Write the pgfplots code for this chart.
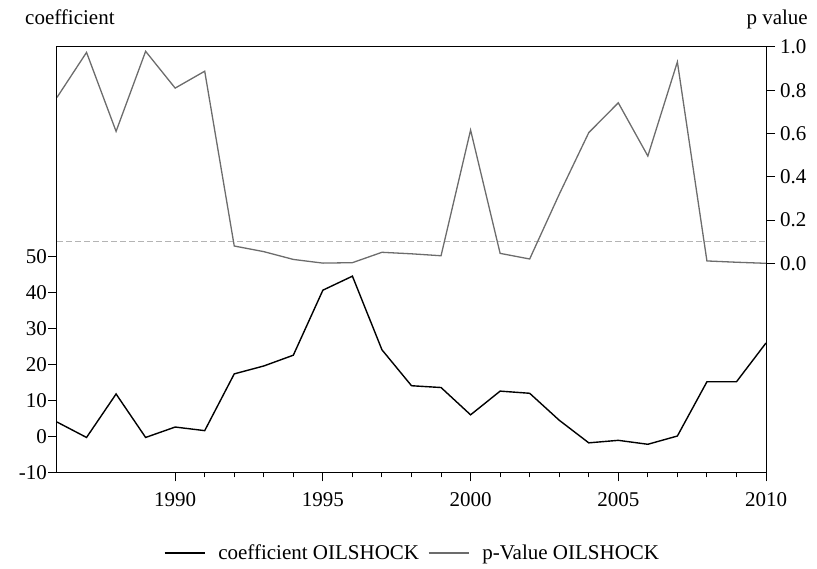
\documentclass[border=0pt]{standalone}
\usepackage{fontspec}
\setmainfont{Liberation Serif}
\usepackage{pgfplots}
\usepackage{pgfplotstable}
\pgfplotsset{compat=1.18}

\definecolor{pgray}{RGB}{108,108,108}
\definecolor{dgray}{RGB}{180,180,180}

% Rolling-window estimates for OILSHOCK
\pgfplotstableread{
year coef
1986  4.0
1987 -0.3
1988 11.8
1989 -0.3
1990  2.6
1991  1.6
1992 17.4
1993 19.6
1994 22.6
1995 40.7
1996 44.6
1997 24.1
1998 14.1
1999 13.6
2000  6.0
2001 12.6
2002 12.0
2003  4.5
2004 -1.8
2005 -1.1
2006 -2.2
2007  0.1
2008 15.2
2009 15.2
2010 26.0
}\coeftable

\pgfplotstableread{
year pval
1986 0.767
1987 0.975
1988 0.610
1989 0.980
1990 0.810
1991 0.888
1992 0.080
1993 0.054
1994 0.018
1995 0.001
1996 0.003
1997 0.051
1998 0.044
1999 0.035
2000 0.616
2001 0.046
2002 0.020
2003 0.319
2004 0.604
2005 0.742
2006 0.496
2007 0.931
2008 0.011
2009 0.005
2010 0.000
}\pvaltable

\newcommand{\chartfont}{\fontsize{21bp}{25bp}\selectfont}

\begin{document}
\begin{tikzpicture}[x=1bp,y=1bp,font=\chartfont]
\path[use as bounding box] (-57bp,-96.7bp) rectangle (760bp,472.3bp);

\pgfplotsset{
  base/.style={
    at={(0,0)}, anchor=south west,
    scale only axis, width=709bp, height=425.3bp,
    xmin=1986, xmax=2010,
    tick align=outside,
    major tick length=9bp, minor tick length=5bp,
    every tick/.style={black, line width=1bp},
    axis line style={line width=1bp},
    tick label style={font=\chartfont},
  }
}

% left axis: coefficient
\begin{axis}[
  base,
  ymin=-10, ymax=108.4,
  xtick={1990,1995,2000,2005,2010},
  xticklabels={1990,1995,2000,2005,2010},
  minor x tick num=4,
  ytick={-10,0,10,20,30,40,50},
  yticklabels={-10,0,10,20,30,40,50},
  xtick pos=bottom, ytick pos=left,
  yticklabel style={inner sep=1bp},
  xticklabel style={inner sep=1bp, yshift=-10bp},
  legend columns=2,
  legend style={at={(0.5,-0.1897)}, anchor=center, draw=none, fill=none,
    font=\chartfont, nodes={inner sep=0bp},
    column sep=9bp,
    /tikz/every odd column/.append style={column sep=13bp}},
  legend image code/.code={\draw[#1] (0bp,0bp) -- (40bp,0bp);},
]
\addplot[black, line width=1.4bp] table[x=year, y=coef] {\coeftable};
\addlegendentry{coefficient OILSHOCK}
\addlegendimage{pgray, line width=1.3bp}
\addlegendentry{p-Value OILSHOCK}
\end{axis}

% right axis: p value
\begin{axis}[
  base,
  axis x line=none,
  axis y line*=right,
  ymin=-0.966, ymax=1,
  ytick={0,0.2,0.4,0.6,0.8,1.0},
  yticklabels={0.0,0.2,0.4,0.6,0.8,1.0},
  yticklabel style={inner sep=5bp},
]
\addplot[dgray, line width=1.2bp, dash pattern=on 6bp off 3bp] coordinates {(1986,0.1) (2010,0.1)};
\addplot[pgray, line width=1.3bp] table[x=year, y=pval] {\pvaltable};
\end{axis}

\node[anchor=base west, inner sep=0pt] at (-32bp,447.3bp) {coefficient};
\node[anchor=base east, inner sep=0pt] at (751bp,447.3bp) {p value};
\end{tikzpicture}
\end{document}
